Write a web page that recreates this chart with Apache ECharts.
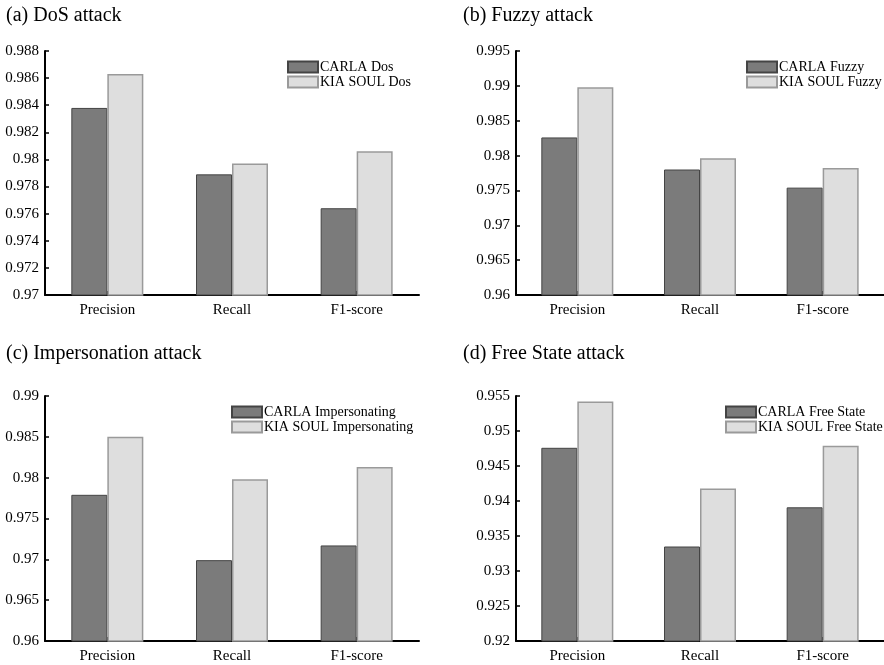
<!DOCTYPE html>
<html>
<head>
<meta charset="utf-8">
<script src="https://cdn.jsdelivr.net/npm/echarts@6/dist/echarts.min.js"></script>
<style>
html,body{margin:0;padding:0;background:#fff;}
#main{width:884px;height:665px;}
</style>
</head>
<body>
<div id="main"></div>
<script>
const categories = ['Precision', 'Recall', 'F1-score'];

const panelTitles = ['(a) DoS attack', '(b) Fuzzy attack', '(c) Impersonation attack', '(d) Free State attack'];

const carlaNames = ['CARLA Dos', 'CARLA Fuzzy', 'CARLA Impersonating', 'CARLA Free State'];
const kiaNames = ['KIA SOUL Dos', 'KIA SOUL Fuzzy', 'KIA SOUL Impersonating', 'KIA SOUL Free State'];

const carlaDos = [0.9838, 0.9789, 0.9764];
const kiaDos = [0.9863, 0.9797, 0.9806];
const carlaFuzzy = [0.9826, 0.9780, 0.9754];
const kiaFuzzy = [0.9898, 0.9796, 0.9782];
const carlaImp = [0.9779, 0.9699, 0.9717];
const kiaImp = [0.9850, 0.9798, 0.9813];
const carlaFree = [0.9476, 0.9335, 0.9391];
const kiaFree = [0.9542, 0.9418, 0.9479];

const yMin = [0.97, 0.96, 0.96, 0.92];
const yMax = [0.988, 0.995, 0.99, 0.955];
const yStep = [0.002, 0.005, 0.005, 0.005];

const carlaData = [carlaDos, carlaFuzzy, carlaImp, carlaFree];
const kiaData = [kiaDos, kiaFuzzy, kiaImp, kiaFree];

const FONT = 'Liberation Serif';

const grids = [
  {left: 45, top: 51, width: 374, height: 244},
  {left: 516, top: 51, width: 372, height: 244},
  {left: 45, top: 396, width: 374, height: 245},
  {left: 516, top: 396, width: 372, height: 245}
];
const titlePos = [
  {left: 6, top: 6},
  {left: 463, top: 6},
  {left: 6, top: 344},
  {left: 463, top: 344}
];
const legendPos = [
  {left: 287, top: 60},
  {left: 746, top: 60},
  {left: 231, top: 405},
  {left: 725, top: 405}
];

const option = {
  backgroundColor: '#ffffff',
  animation: false,
  title: panelTitles.map((t, i) => ({
    text: t,
    left: titlePos[i].left,
    top: titlePos[i].top,
    padding: 0,
    textStyle: {fontFamily: FONT, fontSize: 20, fontWeight: 'normal', color: '#000'}
  })),
  legend: legendPos.map((p, i) => ({
    data: [carlaNames[i], kiaNames[i]],
    orient: 'vertical',
    left: p.left,
    top: p.top,
    padding: 0,
    itemWidth: 30,
    itemHeight: 11,
    itemGap: 1,
    icon: 'rect',
    textStyle: {fontFamily: FONT, fontSize: 14, color: '#000', lineHeight: 14, padding: [0, 0, 0, -3]}
  })),
  grid: grids.map(g => Object.assign({containLabel: false}, g)),
  xAxis: grids.map((g, i) => ({
    type: 'category',
    gridIndex: i,
    data: categories,
    axisLine: {lineStyle: {color: '#000', width: 2}},
    axisTick: {show: true, inside: true, alignWithLabel: true, length: 4, lineStyle: {color: '#000', width: 2}},
    axisLabel: {fontFamily: FONT, fontSize: 15, color: '#000', margin: 8},
    splitLine: {show: false}
  })),
  yAxis: grids.map((g, i) => ({
    type: 'value',
    gridIndex: i,
    min: yMin[i],
    max: yMax[i],
    interval: yStep[i],
    axisLine: {show: true, lineStyle: {color: '#000', width: 2}},
    axisTick: {show: true, inside: true, length: 4, lineStyle: {color: '#000', width: 1.5}},
    axisLabel: {fontFamily: FONT, fontSize: 15, color: '#000', margin: 6},
    splitLine: {show: false}
  })),
  series: []
};

for (let i = 0; i < 4; i++) {
  option.series.push({
    name: carlaNames[i],
    type: 'bar',
    xAxisIndex: i,
    yAxisIndex: i,
    data: carlaData[i],
    barWidth: 36,
    barGap: '0%',
    itemStyle: {color: '#7b7b7b', borderColor: '#444444', borderWidth: 1}
  });
  option.series.push({
    name: kiaNames[i],
    type: 'bar',
    xAxisIndex: i,
    yAxisIndex: i,
    data: kiaData[i],
    barWidth: 36,
    barGap: '0%',
    itemStyle: {color: '#dedede', borderColor: '#9a9a9a', borderWidth: 1.5}
  });
}

const chart = echarts.init(document.getElementById('main'), null, {renderer: 'canvas'});
chart.setOption(option);
</script>
</body>
</html>
